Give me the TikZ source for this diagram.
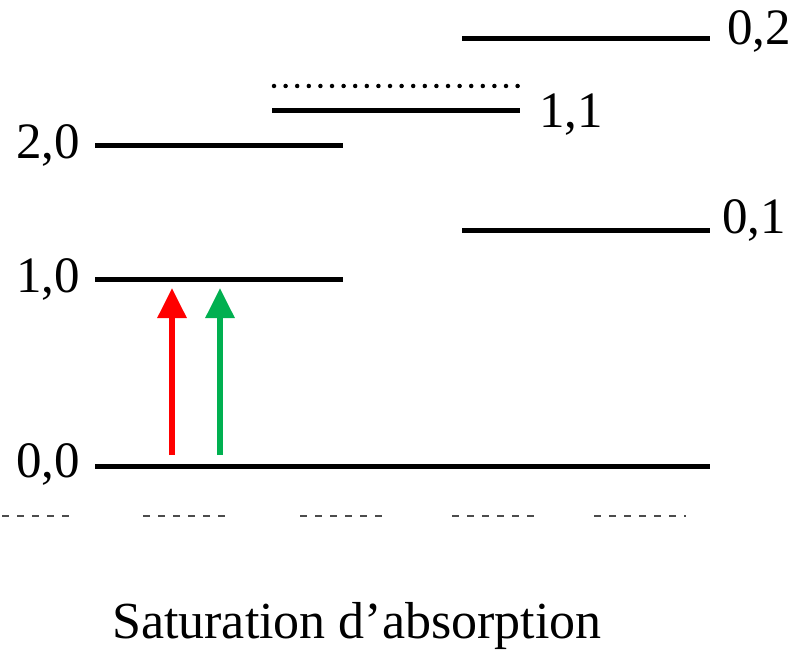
\documentclass[tikz,border=0pt]{standalone}
\usepackage{fontspec}
\setmainfont{Liberation Serif}
\usetikzlibrary{arrows.meta}
\definecolor{arrgreen}{RGB}{0,176,80}
\definecolor{arrred}{RGB}{255,0,0}
\begin{document}
\begin{tikzpicture}[x=1pt,y=-1pt,
  level/.style={line width=5pt},
  lab/.style={inner sep=0pt,font=\fontsize{51}{60}\selectfont},
  pump/.style={line width=6pt,-{Triangle[width=28pt,length=30pt]}},
  clipped/.style={line width=2pt,black!70,dash pattern=on 7pt off 8pt}]
\useasboundingbox (0,0) rectangle (794,650);
% energy levels
\draw[level] (95,466) -- (710,466);
\draw[level] (95,279) -- (343,279);
\draw[level] (95,145) -- (343,145);
\draw[level] (272,111) -- (520,111);
\draw[line width=4.5pt,line cap=round,dash pattern=on 0pt off 11.6pt] (274,86) -- (526,86);
\draw[level] (462,39) -- (710,39);
\draw[level] (462,230) -- (710,230);
% labels
\node[lab,anchor=base east] (l00) at (80,477) {0,0};
\node[lab,anchor=base east] (l10) at (80,292) {1,0};
\node[lab,anchor=base east] (l20) at (80,158) {2,0};
\node[lab,anchor=base west] (l11) at (539,128) {1,1};
\node[lab,anchor=base west] (l02) at (727,45) {0,2};
\node[lab,anchor=base west] (l01) at (722,233) {0,1};
% pump arrows
\coordinate (rb) at (172,455); \coordinate (rt) at (172,288);
\coordinate (gb) at (220,455); \coordinate (gt) at (220,288);
\draw[pump,arrred] (rb) -- (rt);
\draw[pump,arrgreen] (gb) -- (gt);
% clipped text remnants
\draw[clipped] (2,516) -- (76,516);
\draw[clipped] (143,516) -- (228,516);
\draw[clipped] (300,516) -- (388,516);
\draw[clipped] (452,516) -- (535,516);
\draw[clipped] (594,516) -- (686,516);
% title
\node[lab,anchor=base,font=\fontsize{52}{60}\selectfont] (title) at (357,638) {Saturation d’absorption};
\end{tikzpicture}
\end{document}
